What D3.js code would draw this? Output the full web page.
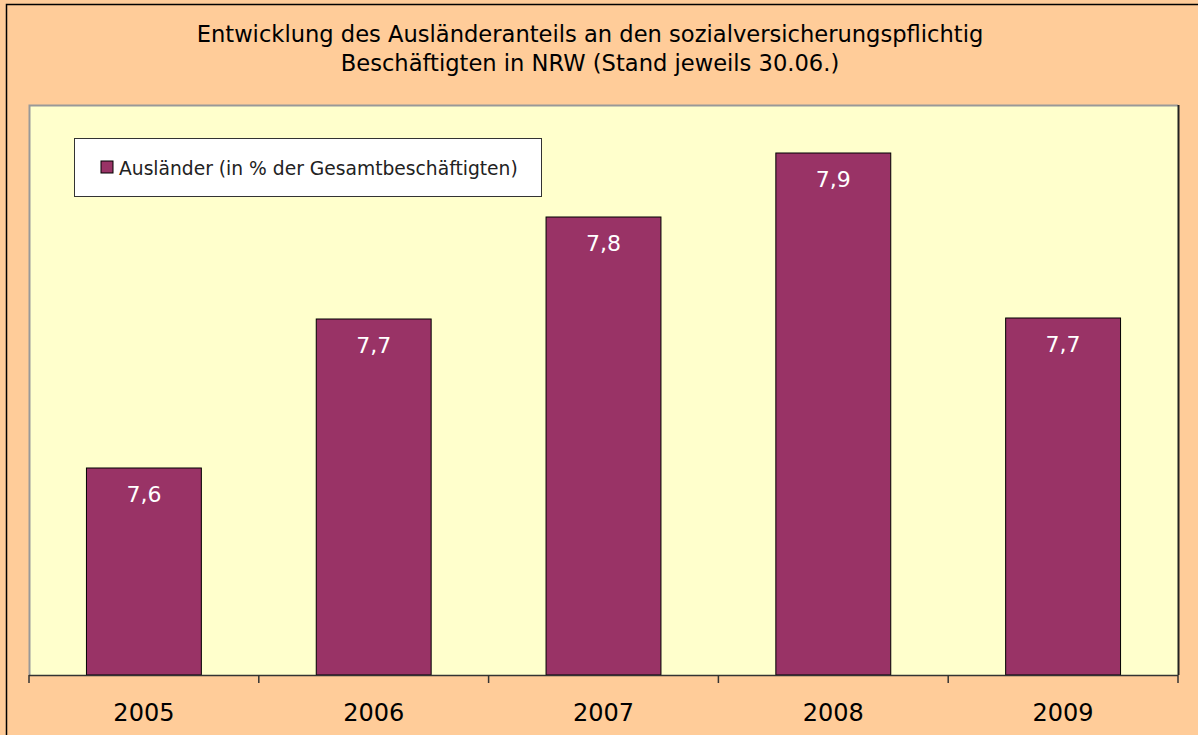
<!DOCTYPE html>
<html>
<head>
<meta charset="utf-8">
<script src="https://cdn.jsdelivr.net/npm/d3@7"></script>
<style>
  body { margin: 0; background: #ffcc99; }
  svg { display: block; }
</style>
</head>
<body>
<div id="chart" style="width:1198px;height:735px"></div>
<script>
const years = ["2005", "2006", "2007", "2008", "2009"];
const values = [7.587, 7.736, 7.838, 7.902, 7.737];
const title_lines = ["Entwicklung des Ausländeranteils an den sozialversicherungspflichtig",
    "Beschäftigten in NRW (Stand jeweils 30.06.)"];
const legend_label = "Ausländer (in % der Gesamtbeschäftigten)";
const y_domain = [7.38, 7.95];

function bar_chart(element_id) {
    const font = "'DejaVu Sans', Verdana, sans-serif";
    const plot = { left: 29, top: 105, right: 1178, bottom: 675 };

    d3.select(`#${element_id}`).selectAll("svg").remove()
    const svg = d3.select(`#${element_id}`)
        .append("svg")
        .attr("width", 1198)
        .attr("height", 735);

    // outer frame
    svg.append("rect")
        .attr("x", 6.5).attr("y", 4.5)
        .attr("width", 1230).attr("height", 760)
        .attr("fill", "#ffcc99")
        .attr("stroke", "#000").attr("stroke-width", 1.5);

    // plot area
    svg.append("rect")
        .attr("x", plot.left).attr("y", plot.top)
        .attr("width", plot.right - plot.left).attr("height", plot.bottom - plot.top)
        .attr("fill", "#ffffcc");
    svg.append("path")
        .attr("d", `M${plot.left + 0.5},${plot.bottom}V${plot.top + 0.5}H${plot.right}`)
        .attr("fill", "none").attr("stroke", "#999").attr("stroke-width", 2);
    svg.append("line")
        .attr("x1", plot.right + 0.5).attr("x2", plot.right + 0.5)
        .attr("y1", plot.top).attr("y2", plot.bottom)
        .attr("stroke", "#222").attr("stroke-width", 2);

    const x = d3.scaleBand()
        .domain(years)
        .range([plot.left, plot.right])
        .paddingInner(0.5)
        .paddingOuter(0.25);

    const y = d3.scaleLinear()
        .domain(y_domain)
        .range([plot.bottom, plot.top]);

    svg.selectAll(".bar")
        .data(years)
        .enter().append("rect")
        .attr("class", "bar")
        .attr("x", d => x(d))
        .attr("y", (d, i) => y(values[i]))
        .attr("width", x.bandwidth())
        .attr("height", (d, i) => plot.bottom - y(values[i]))
        .attr("fill", "#993366")
        .attr("stroke", "#000")
        .attr("stroke-width", 1);

    svg.selectAll(".value")
        .data(years)
        .enter().append("text")
        .attr("x", d => x(d) + x.bandwidth() / 2)
        .attr("y", (d, i) => y(values[i]) + 34)
        .attr("text-anchor", "middle")
        .attr("font-family", font)
        .attr("font-size", "22px")
        .attr("fill", "#fff")
        .text((d, i) => d3.format(".1f")(values[i]).replace(".", ","));

    // x axis with ticks between categories
    const axis_line = svg.append("g");
    axis_line.append("line")
        .attr("x1", plot.left).attr("x2", plot.right)
        .attr("y1", plot.bottom + 0.5).attr("y2", plot.bottom + 0.5)
        .attr("stroke", "#333").attr("stroke-width", 1.5);
    const tick_pos = d3.range(years.length + 1).map(i => plot.left + i * (plot.right - plot.left) / years.length);
    axis_line.selectAll(".tick")
        .data(tick_pos)
        .enter().append("line")
        .attr("x1", d => d).attr("x2", d => d)
        .attr("y1", plot.bottom).attr("y2", plot.bottom + 8)
        .attr("stroke", "#333").attr("stroke-width", 1.5);
    axis_line.selectAll(".year")
        .data(years)
        .enter().append("text")
        .attr("x", d => x(d) + x.bandwidth() / 2)
        .attr("y", 721)
        .attr("text-anchor", "middle")
        .attr("font-family", font)
        .attr("font-size", "24px")
        .attr("fill", "#000")
        .text(d => d);

    // title
    svg.selectAll(".title")
        .data(title_lines)
        .enter().append("text")
        .attr("x", 590)
        .attr("y", (d, i) => 42 + i * 29)
        .attr("text-anchor", "middle")
        .attr("font-family", font)
        .attr("font-size", "22.6px")
        .attr("fill", "#000")
        .text(d => d);

    // legend
    const legend = svg.append("g");
    legend.append("rect")
        .attr("x", 74.5).attr("y", 138.5)
        .attr("width", 467).attr("height", 58)
        .attr("fill", "#fff")
        .attr("stroke", "#333").attr("stroke-width", 1);
    legend.append("rect")
        .attr("x", 101).attr("y", 161)
        .attr("width", 12).attr("height", 12)
        .attr("fill", "#993366")
        .attr("stroke", "#000");
    legend.append("text")
        .attr("x", 119)
        .attr("y", 175)
        .attr("font-family", font)
        .attr("font-size", "18.7px")
        .attr("fill", "#222")
        .text(legend_label);
}

bar_chart("chart");
</script>
</body>
</html>
